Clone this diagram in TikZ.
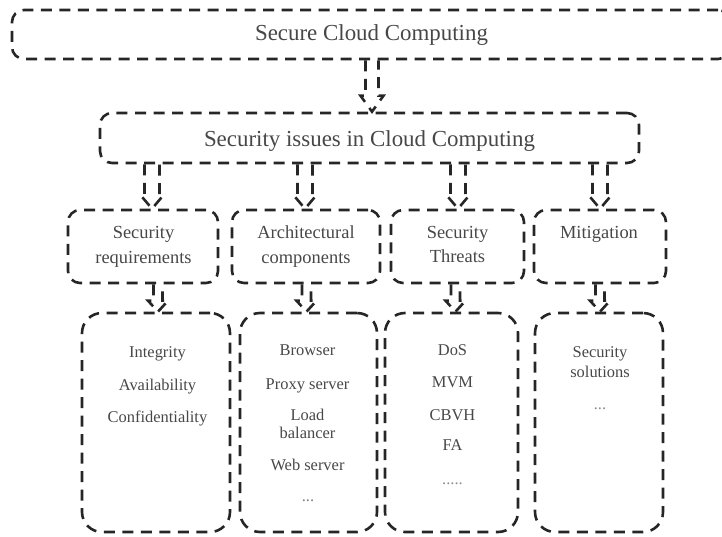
\documentclass[tikz,border=0pt]{standalone}
\usepackage{fontspec}
\setmainfont{Liberation Serif}
\usetikzlibrary{calc}

\tikzset{
  dashline/.style={draw=black!85, line width=2.6bp, dash pattern=on 11bp off 7.5bp},
  box/.style={dashline, rectangle, rounded corners=12bp, inner sep=0pt},
  tallbox/.style={box, rounded corners=20bp},
  bigtext/.style={text=black!72, font=\fontsize{23}{27}\selectfont, anchor=base, inner sep=0pt},
  midtext/.style={text=black!72, font=\fontsize{18.5}{22}\selectfont, anchor=base, inner sep=0pt},
  smalltext/.style={text=black!72, font=\fontsize{16.5}{19}\selectfont, anchor=base, inner sep=0pt},
}

% hollow block arrow from the bottom of #1 to the top of #2
% #3 x offset from the centre of #2, #4 shaft half width, #5 head half width, #6 head length
\newcommand\hollowarrow[6]{%
  \draw[dashline] let \p1=($(#2.north)+(#3,0)$), \p2=(#1.south) in
    (\x1-#4,\y2) -- (\x1-#4,\y1+#6) -- (\x1-#5,\y1+#6) -- (\x1,\y1)
    -- (\x1+#5,\y1+#6) -- (\x1+#4,\y1+#6) -- (\x1+#4,\y2);
}

\begin{document}
\begin{tikzpicture}[x=1bp, y=-1bp]
\useasboundingbox (0,0) rectangle (722,537);
\clip (0,0) rectangle (722,537);

% boxes
\node[box, minimum width=718bp, minimum height=49bp] (top) at (371,34.5) {};
\node[box, minimum width=539bp, minimum height=50bp] (issues) at (369.5,138) {};

\node[box, minimum width=150bp, minimum height=73bp] (req) at (143,246.5) {};
\node[box, minimum width=148bp, minimum height=73bp] (arch) at (306,246.5) {};
\node[box, minimum width=133bp, minimum height=73bp] (thr) at (457.5,246.5) {};
\node[box, minimum width=132bp, minimum height=73bp] (mit) at (600,246.5) {};

\node[tallbox, minimum width=148bp, minimum height=219bp] (reqL) at (156,422.5) {};
\node[tallbox, minimum width=137bp, minimum height=219bp] (archL) at (308.5,422.5) {};
\node[tallbox, minimum width=133bp, minimum height=219bp] (thrL) at (451.5,422.5) {};
\node[tallbox, minimum width=128bp, minimum height=219bp] (mitL) at (599,422.5) {};

% titles
\node[bigtext] (tTop) at (371.5,41) {Secure Cloud Computing};
\node[bigtext] (tIssues) at (369.5,147) {Security issues in Cloud Computing};

\node[midtext] (tReq1) at (143.5,239) {Security};
\node[midtext] (tReq2) at (143.5,264) {requirements};
\node[midtext] (tArch1) at (306,239) {Architectural};
\node[midtext] (tArch2) at (306,264) {components};
\node[midtext] (tThr1) at (457.5,239) {Security};
\node[midtext] (tThr2) at (457.5,263) {Threats};
\node[midtext] (tMit) at (599,239) {Mitigation};

% list entries
\node[smalltext] (i1) at (157.5,357.5) {Integrity};
\node[smalltext] (i2) at (157.5,390.5) {Availability};
\node[smalltext] (i3) at (157.5,422.5) {Confidentiality};

\node[smalltext] (a1) at (307.5,355.5) {Browser};
\node[smalltext] (a2) at (307.5,389.5) {Proxy server};
\node[smalltext] (a3) at (307.5,420.5) {Load};
\node[smalltext] (a4) at (307.5,438.5) {balancer};
\node[smalltext] (a5) at (307.5,470.5) {Web server};
\node[smalltext, text=black!50] (a6) at (308,501) {...};

\node[smalltext] (h1) at (452.5,355.5) {DoS};
\node[smalltext] (h2) at (452.5,387.5) {MVM};
\node[smalltext] (h3) at (452.5,420.5) {CBVH};
\node[smalltext] (h4) at (452.5,450.5) {FA};
\node[smalltext, text=black!45] (h5) at (452.5,484) {.....};

\node[smalltext] (m1) at (600,357.5) {Security};
\node[smalltext] (m2) at (600,377.5) {solutions};
\node[smalltext, text=black!45] (m3) at (600,409) {...};

% connectors
\hollowarrow{top}{issues}{2.5bp}{6.5bp}{11.5bp}{16bp}
\hollowarrow{issues}{req}{9bp}{7.5bp}{11bp}{13bp}
\hollowarrow{issues}{arch}{-1bp}{7.5bp}{11bp}{13bp}
\hollowarrow{issues}{thr}{0.5bp}{7.5bp}{11bp}{13bp}
\hollowarrow{issues}{mit}{0bp}{7.5bp}{11bp}{13bp}

\hollowarrow{req}{reqL}{2bp}{4.5bp}{10bp}{11bp}
\hollowarrow{arch}{archL}{-2bp}{4.5bp}{10bp}{11bp}
\hollowarrow{thr}{thrL}{4bp}{4.5bp}{10bp}{11bp}
\hollowarrow{mit}{mitL}{1bp}{4.5bp}{10bp}{11bp}
\end{tikzpicture}
\end{document}
